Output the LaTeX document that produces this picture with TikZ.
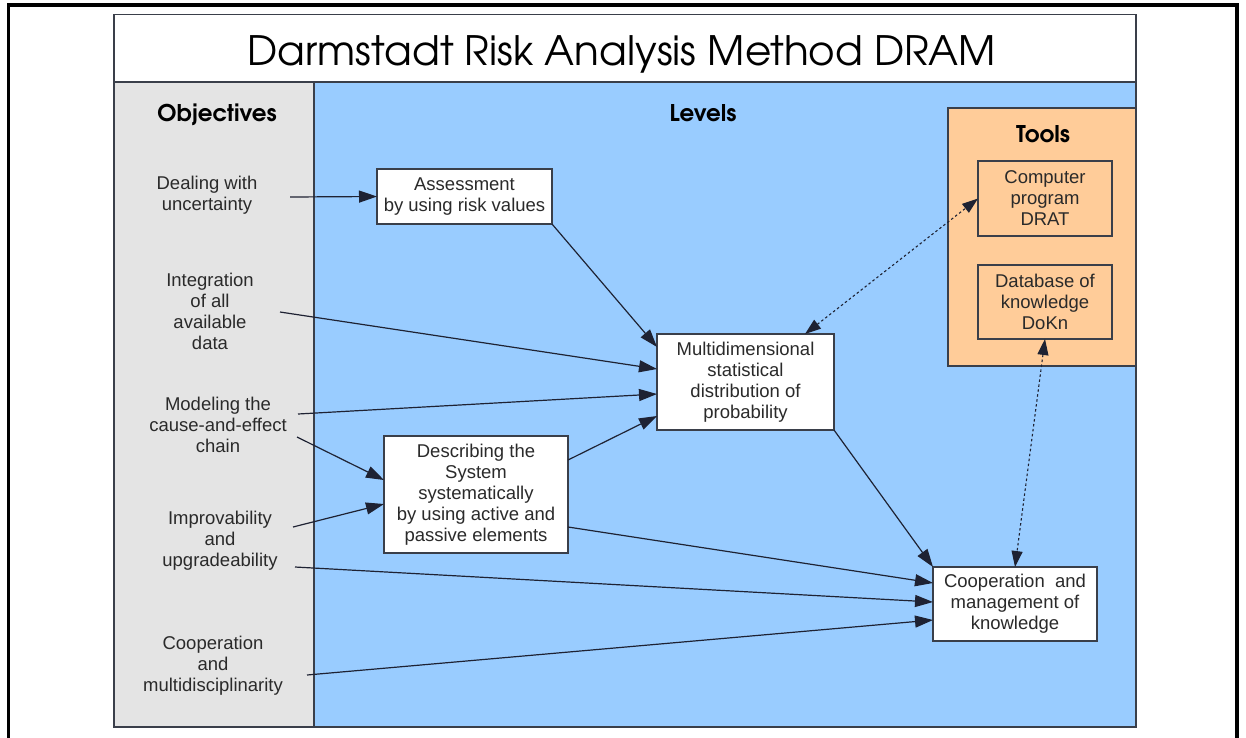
\documentclass[tikz,border=0pt]{standalone}
\usepackage{fontspec}
\setmainfont{Liberation Sans}
\newfontfamily\gothic{TeX Gyre Adventor}
\usetikzlibrary{arrows.meta}

\definecolor{levelblue}{HTML}{99CCFF}
\definecolor{objgrey}{HTML}{E4E4E4}
\definecolor{toolorange}{HTML}{FFCC99}
\definecolor{edge}{HTML}{3A3F4A}
\definecolor{ink}{HTML}{1E2233}
\definecolor{txt}{HTML}{2A2A2A}

\begin{document}
\begin{tikzpicture}[x=1pt,y=-1pt,
  every node/.style={inner sep=0pt, outer sep=0pt},
  body/.style={font=\fontsize{18.5}{21}\selectfont, text=txt, align=center},
  head/.style={font=\gothic\bfseries\fontsize{23}{26}\selectfont, text=black, anchor=base},
  levelbox/.style={body, draw=edge, line width=1.3pt, fill=white},
  toolbox/.style={body, draw=edge, line width=1.3pt},
  flow/.style={-{Triangle[length=18pt,width=12pt]}, line width=1.2pt, draw=ink},
  dual/.style={{Triangle[length=16pt,width=11pt]}-{Triangle[length=16pt,width=11pt]},
               line width=1.1pt, draw=ink, dash pattern=on 2.5pt off 2.5pt}]

\useasboundingbox (0,0) rectangle (1246,737);
\fill[white] (0,0) rectangle (1246,737);

% outer frame (open at the bottom)
\draw[line width=3.6pt, black] (8.5,745) -- (8.5,5) -- (1237,5) -- (1237,745);

% panels
\fill[white] (114,14.5) rectangle (1136,82);
\fill[objgrey] (114,82) rectangle (314,727);
\fill[levelblue] (314,82) rectangle (1136,727);
\draw[edge, line width=1.3pt] (114,82) -- (1136,82);
\draw[edge, line width=1.3pt] (314,82) -- (314,727);
\draw[edge, line width=1.3pt] (114,14.5) rectangle (1136,727);

% title and column headings
\node[anchor=base, font=\gothic\fontsize{40.5}{46}\selectfont, text=black] (title) at (622,65)
  {Darmstadt Risk Analysis Method DRAM};
\node[head] (hobj) at (217,121) {Objectives};
\node[head] (hlev) at (703,121) {Levels};

% tools panel
\node[draw=edge, fill=toolorange, line width=1.3pt, minimum width=188pt, minimum height=258pt]
  (tools) at (1042,237) {};
\node[head] (htools) at (1043,142) {Tools};
\node[toolbox, minimum width=134pt, minimum height=75pt] (comp) at (1045,198.5)
  {Computer\\program\\DRAT};
\node[toolbox, minimum width=134pt, minimum height=74pt] (db) at (1045,302)
  {Database of\\knowledge\\DoKn};

% objectives
\node[body] (obj1) at (207,195) {Dealing with\\uncertainty};
\node[body] (obj2) at (210,311) {Integration\\of all\\available\\data};
\node[body] (obj3) at (218,425) {Modeling the\\cause-and-effect\\chain};
\node[body] (obj4) at (220,541) {Improvability\\and\\upgradeability};
\node[body] (obj5) at (213,666) {Cooperation\\and\\multidisciplinarity};

% levels
\node[levelbox, minimum width=175pt, minimum height=55pt] (assess) at (464.5,196.5)
  {Assessment\\by using risk values};
\node[levelbox, minimum width=177pt, minimum height=96pt] (multi) at (745.5,382)
  {Multidimensional\\statistical\\distribution of\\probability};
\node[levelbox, minimum width=184pt, minimum height=117pt] (descr) at (476,494.5)
  {Describing the\\System\\systematically\\by using active and\\passive elements};
\node[levelbox, minimum width=164pt, minimum height=74pt] (coop) at (1015,604)
  {Cooperation~~and\\management of\\knowledge};

% free ends of the objective connectors
\coordinate (s1) at (290,197);
\coordinate (s2) at (280,312);
\coordinate (s3) at (298,414);
\coordinate (s6) at (297,437);
\coordinate (s7) at (293,527);
\coordinate (s10) at (295,567);
\coordinate (s11) at (307,675);

% connectors
\draw[flow] (s1) -- (assess.west);
\draw[flow] (s2) -- ([yshift=13pt]multi.west);
\draw[flow] (s3) -- ([yshift=-12pt]multi.west);
\draw[flow] ([yshift=34.5pt]descr.east) -- ([yshift=-34pt]multi.west);
\draw[flow] (assess.south east) -- ([yshift=35pt]multi.west);
\draw[flow] (s6) -- ([yshift=14.5pt]descr.west);
\draw[flow] (s7) -- ([yshift=-9.5pt]descr.west);
\draw[flow] (multi.south east) -- (coop.north west);
\draw[flow] ([yshift=-32.5pt]descr.east) -- ([yshift=21pt]coop.west);
\draw[flow] (s10) -- ([yshift=2pt]coop.west);
\draw[flow] (s11) -- ([yshift=-16pt]coop.west);
\draw[dual] ([xshift=59.5pt]multi.north) -- (comp.west);
\draw[dual] (db.south) -- (coop.north);
\end{tikzpicture}
\end{document}
